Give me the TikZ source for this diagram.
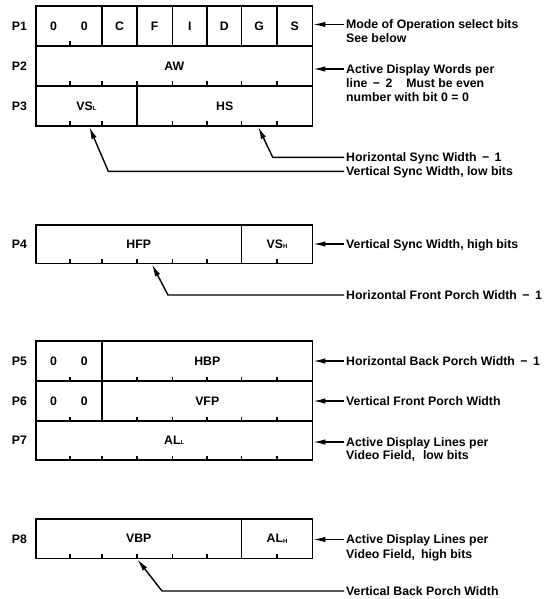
\documentclass[tikz,border=0pt]{standalone}
\usepackage{fontspec}
\setmainfont{Liberation Sans}
\usetikzlibrary{arrows.meta}
\newcommand{\sbsc}[1]{\raisebox{-0.3pt}{\fontsize{6}{6}\selectfont #1}}
\newcommand{\fld}[6]{\node[field, minimum width={#3-#2}, minimum height={#5-#4}] (#1) at ({(#2+#3)/2},{(#4+#5)/2}) {#6};}
\newcommand{\tks}[2]{\foreach \tx in {#2} {\draw[tickmark] (\tx,#1) -- (\tx,#1-4.5);}}
\begin{document}
\begin{tikzpicture}[x=1pt,y=-1pt,
  txt/.style={font=\fontsize{12.3}{14}\selectfont\bfseries, inner sep=0pt},
  field/.style={txt, draw, line width=1.8pt, rectangle},
  tickmark/.style={line width=1.5pt},
  plabel/.style={txt, text height=8.8pt, text depth=0pt},
  desc/.style={txt, anchor=west, inner sep=2pt, text height=8.8pt, text depth=0pt},
  ptr/.style={line width=1.4pt, -{Latex[length=12pt,width=5.5pt]}},
]
\useasboundingbox (0,0) rectangle (556,599);

% P1
\fld{p1a}{36}{102}{6}{46}{0\hspace{24pt}0}
\fld{p1c}{102}{137}{6}{46}{C}
\fld{p1f}{137}{172.5}{6}{46}{F}
\fld{p1i}{172.5}{207}{6}{46}{I}
\fld{p1d}{207}{241.5}{6}{46}{D}
\fld{p1g}{241.5}{277}{6}{46}{G}
\fld{p1s}{277}{312.5}{6}{46}{S}
\tks{46}{70}
% P2
\fld{aw}{36}{312.5}{46}{86}{AW}
\tks{86}{70,102,137,172.5,207,241.5,277}
% P3
\fld{vsl}{36}{137}{86}{126}{VS\sbsc{L}}
\fld{hs}{137}{312.5}{86}{126}{HS}
\tks{126}{70,102,172.5,207,241.5,277}
% P4
\fld{hfp}{36}{241.5}{225}{263.5}{HFP}
\fld{vsh}{241.5}{312.5}{225}{263.5}{VS\sbsc{H}}
\tks{263.5}{70,102,137,172.5,207,277}
% P5
\fld{p5a}{36}{102}{341}{381}{0\hspace{24pt}0}
\fld{hbp}{102}{312.5}{341}{381}{HBP}
\tks{381}{70,137,172.5,207,241.5,277}
% P6
\fld{p6a}{36}{102}{381}{421}{0\hspace{24pt}0}
\fld{vfp}{102}{312.5}{381}{421}{VFP}
\tks{421}{70,137,172.5,207,241.5,277}
% P7
\fld{all}{36}{312.5}{421}{460}{AL\sbsc{L}}
\tks{460}{70,102,137,172.5,207,241.5,277}
% P8
\fld{vbp}{36}{241.5}{519}{558.5}{VBP}
\fld{alh}{241.5}{312.5}{519}{558.5}{AL\sbsc{H}}
\tks{558.5}{70,102,137,172.5,207,277}

% row labels
\node[plabel] (l1) at (19.5,26) {P1};
\node[plabel] (l2) at (19.5,66) {P2};
\node[plabel] (l3) at (19.5,106) {P3};
\node[plabel] (l4) at (19.5,244) {P4};
\node[plabel] (l5) at (19.5,361) {P5};
\node[plabel] (l6) at (19.5,401) {P6};
\node[plabel] (l7) at (19.5,440.5) {P7};
\node[plabel] (l8) at (19.5,539) {P8};

% descriptions
\node[desc] (d1a) at (344,24.5) {Mode of Operation select bits};
\node[desc] (d1b) at (344,38) {See below};
\node[desc] (d2a) at (344,69) {Active Display Words per};
\node[desc] (d2b) at (344,83) {line \,−\, 2\hspace{14pt}Must be even};
\node[desc] (d2c) at (344,97.5) {number with bit 0 = 0};
\node[desc] (dhs) at (344,157.3) {Horizontal Sync Width \,−\, 1};
\node[desc] (dvs) at (344,171.3) {Vertical Sync Width, low bits};
\node[desc] (dvh) at (344,244) {Vertical Sync Width, high bits};
\node[desc] (dhf) at (344,295) {Horizontal Front Porch Width \,−\, 1};
\node[desc] (dhb) at (344,361) {Horizontal Back Porch Width \,−\, 1};
\node[desc] (dvf) at (344,401) {Vertical Front Porch Width};
\node[desc] (d7a) at (344,442) {Active Display Lines per};
\node[desc] (d7b) at (344,455.5) {Video Field,\hspace{8pt}low bits};
\node[desc] (d8a) at (344,539.5) {Active Display Lines per};
\node[desc] (d8b) at (344,554) {Video Field,\hspace{6pt}high bits};
\node[desc] (dvb) at (344,591) {Vertical Back Porch Width};

% straight pointers
\draw[ptr] (d1a.west) -- (d1a.west -| p1s.east);
\draw[ptr] (d2a.west) -- (d2a.west -| aw.east);
\draw[ptr] (dvh.west) -- (dvh.west -| vsh.east);
\draw[ptr] (dhb.west) -- (dhb.west -| hbp.east);
\draw[ptr] (dvf.west) -- (dvf.west -| vfp.east);
\draw[ptr] (d7a.west) -- (d7a.west -| all.east);
\draw[ptr] (d8a.west) -- (d8a.west -| alh.east);

% bent pointers
\coordinate (hsbend) at (272.7,157.3);
\coordinate (hstip) at (258.3,127);
\coordinate (vsbend) at (108.3,171.3);
\coordinate (vstip) at (89.3,127);
\coordinate (hfbend) at (168,295);
\coordinate (hftip) at (152,264.5);
\coordinate (vbbend) at (162,591);
\coordinate (vbtip) at (137.5,559.5);
\draw[ptr] (dhs.west) -- (hsbend) -- (hstip);
\draw[ptr] (dvs.west) -- (vsbend) -- (vstip);
\draw[ptr] (dhf.west) -- (hfbend) -- (hftip);
\draw[ptr] (dvb.west) -- (vbbend) -- (vbtip);
\end{tikzpicture}
\end{document}
